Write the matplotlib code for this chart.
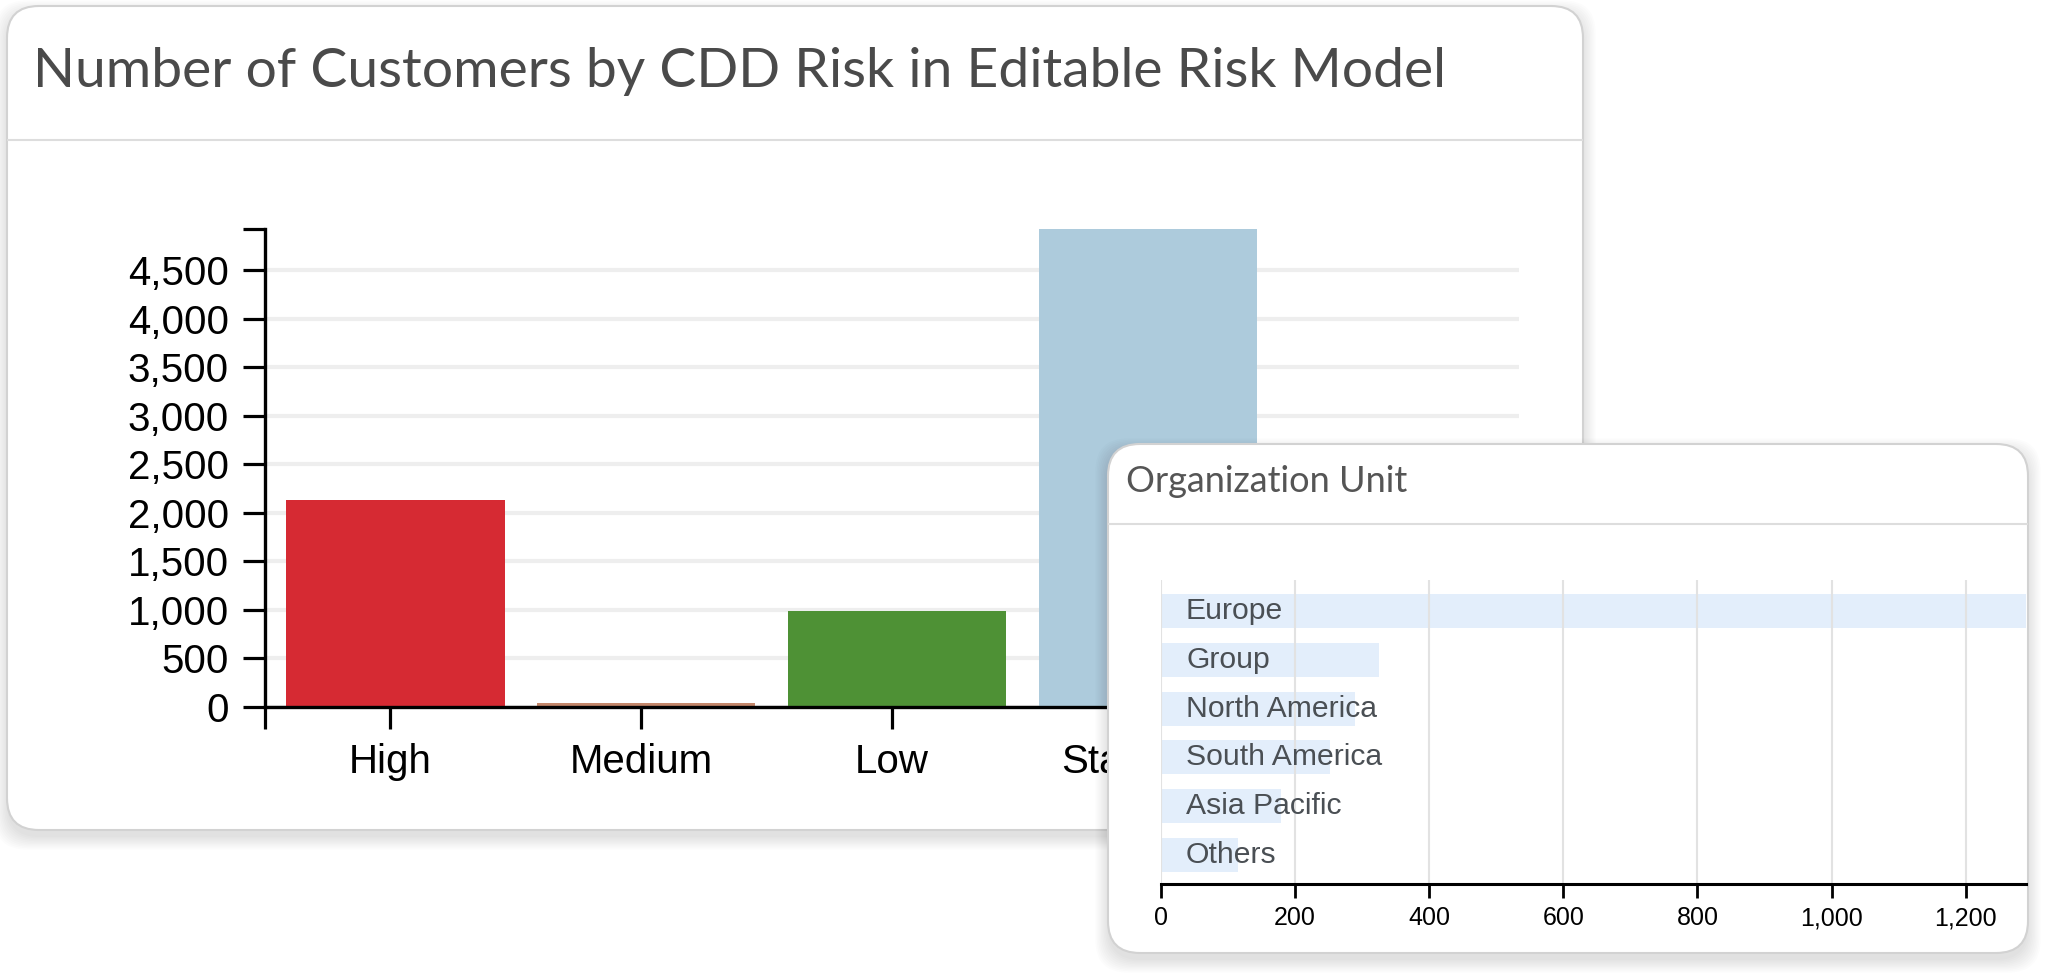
import matplotlib.pyplot as plt
from matplotlib.patches import FancyBboxPatch
from matplotlib.ticker import FuncFormatter, MultipleLocator

W, H = 2048, 975

risk_levels = ["High", "Medium", "Low", "Standard"]
risk_counts = [2130, 35, 985, 4930]
risk_colors = ["#d62a33", "#c4876b", "#4e9135", "#adcbdc"]

org_units = ["Europe", "Group", "North America", "South America", "Asia Pacific", "Others"]
org_counts = [1420, 325, 290, 252, 179, 115]

plt.rcParams["font.family"] = ["Liberation Sans", "DejaVu Sans"]
comma = FuncFormatter(lambda v, p: f"{v:,.0f}")


def px_rect(x0, y0, x1, y1):
    # pixel box (top-left origin) -> figure fraction rect
    return [x0 / W, 1 - y1 / H, (x1 - x0) / W, (y1 - y0) / H]


def card(ax, x0, y0, x1, y1, r=32):
    # soft drop shadow, then the white card
    for i in range(10):
        ax.add_patch(FancyBboxPatch((x0, y0 + 7), x1 - x0, y1 - y0,
                                    boxstyle=f"round,pad={i * 1.4},rounding_size={r}",
                                    facecolor="black", edgecolor="none", alpha=0.012))
    ax.add_patch(FancyBboxPatch((x0, y0), x1 - x0, y1 - y0,
                                boxstyle=f"round,pad=0,rounding_size={r}",
                                facecolor="white", edgecolor="#d2d2d2", linewidth=1.5))


def overlay_axes(z):
    ax = fig.add_axes([0, 0, 1, 1], zorder=z)
    ax.set_xlim(0, W)
    ax.set_ylim(H, 0)
    ax.axis("off")
    ax.patch.set_visible(False)
    return ax


fig = plt.figure(figsize=(W / 100, H / 100), dpi=100)

# main card
bg = overlay_axes(0)
card(bg, 7, 6, 1583, 830)
bg.text(33, 72, "Number of Customers by CDD Risk in Editable Risk Model",
        fontsize=39.8, family="Lato", color="#4a4a4a", va="center")
bg.plot([8, 1582], [140, 140], color="#dddddd", lw=1.5)

ax1 = fig.add_axes(px_rect(265, 228.6, 1519, 706.6), zorder=1)
ax1.patch.set_visible(False)
x = list(range(len(risk_levels)))
# d3 band offset: bars sit a touch right of the tick
ax1.bar([i + 0.02 for i in x], risk_counts, width=0.87, color=risk_colors, zorder=2)
ax1.set_xlim(-0.5, 4.5)
ax1.set_ylim(0, max(risk_counts))
ax1.set_xticks(x)
ax1.set_xticklabels(risk_levels)
ax1.set_xticks([-0.5, 4.5], minor=True)
ax1.yaxis.set_major_locator(MultipleLocator(500))
ax1.set_yticks([max(risk_counts)], minor=True)
ax1.yaxis.set_major_formatter(comma)
ax1.tick_params(which="both", length=16, width=2.3, pad=10, labelsize=29, color="black")
for s in ["top", "right"]:
    ax1.spines[s].set_visible(False)
for s in ["left", "bottom"]:
    ax1.spines[s].set_linewidth(2.4)
ax1.grid(axis="y", color="#eeeeee", lw=3)
ax1.set_axisbelow(True)

# organization unit card
top = overlay_axes(2)
card(top, 1108, 444, 2028, 953)
top.text(1126, 481, "Organization Unit", fontsize=26, family="Lato", color="#555555", va="center")
top.plot([1109, 2027], [524, 524], color="#dddddd", lw=1.5)

ax2 = fig.add_axes(px_rect(1161, 580, 2026, 884), zorder=3)
ax2.patch.set_visible(False)
y = list(range(len(org_units)))
ax2.barh(y, org_counts, height=0.7, color="#e3eefb", zorder=1)
ax2.set_ylim(5.6, -0.64)
ax2.set_xlim(0, 1290)
for i, name in enumerate(org_units):
    ax2.annotate(name, xy=(0, i), xytext=(18, 0), textcoords="offset points",
                 va="center", fontsize=21.7, color="#4a4f54", zorder=3)
ax2.set_yticks([])
ax2.xaxis.set_major_locator(MultipleLocator(200))
ax2.xaxis.set_major_formatter(comma)
ax2.tick_params(axis="x", length=10, width=2, pad=6, labelsize=18, color="black")
for s in ["top", "right", "left"]:
    ax2.spines[s].set_visible(False)
ax2.spines["bottom"].set_linewidth(2.2)
ax2.grid(axis="x", color="#e2e2e2", lw=1.5, zorder=2)

fig.savefig("out.png", dpi=100)
